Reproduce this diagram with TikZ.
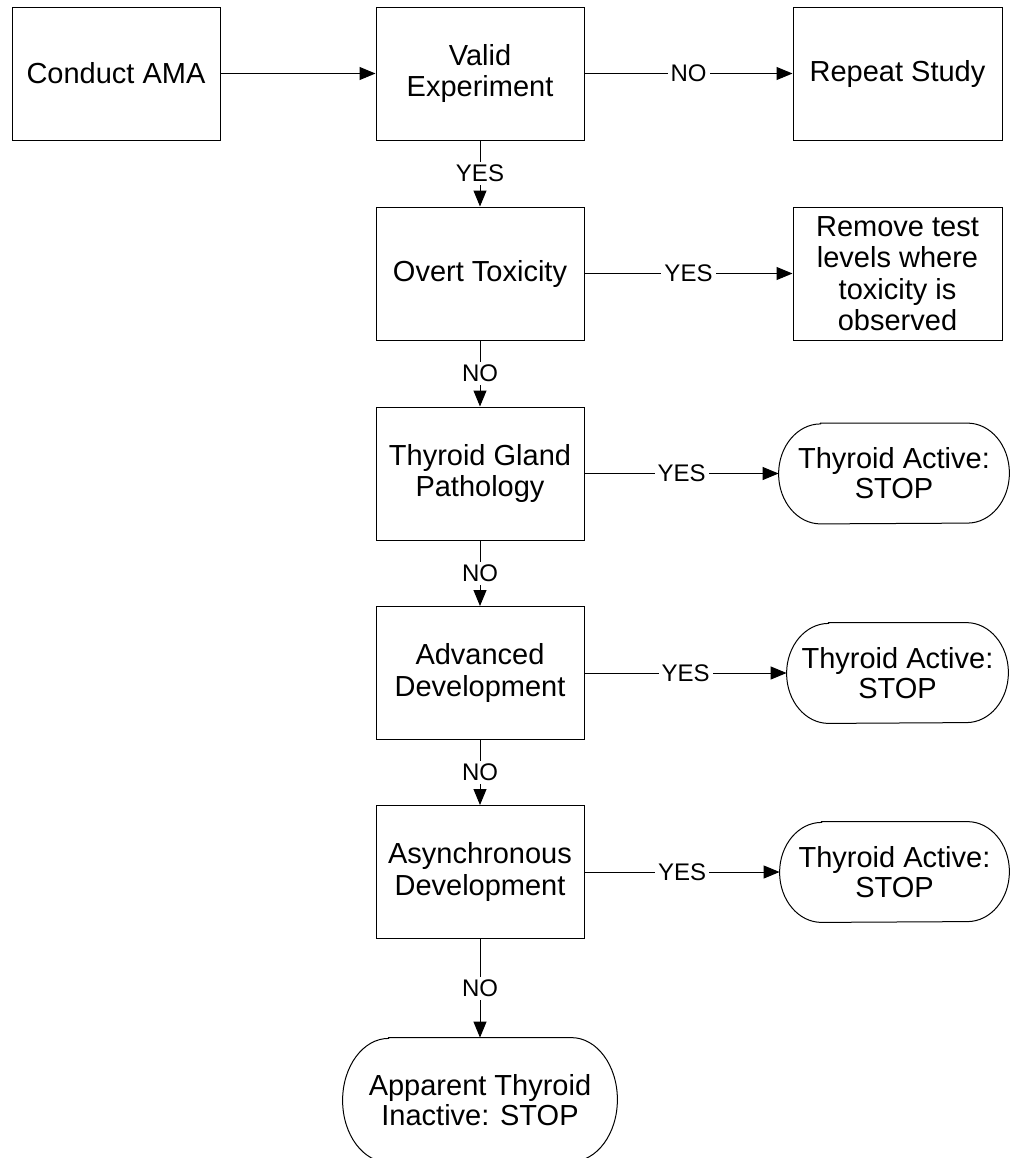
\documentclass[tikz,border=0pt]{standalone}
\usepackage{fontspec}
\setmainfont{Liberation Sans}
\usetikzlibrary{arrows.meta}

% frame of a stop node: flat top and bottom, elliptic ends
\newcommand{\termframe}[3]{%
	\draw[line width=0.5pt] ([xshift=#2]#1.north west) -- ([xshift=-#2]#1.north east)
		arc[start angle=90,end angle=-90,x radius=#2,y radius=#3]
		-- ([xshift=#2]#1.south west)
		arc[start angle=270,end angle=90,x radius=#2,y radius=#3] -- cycle;}

\begin{document}
\begin{tikzpicture}[x=0.5pt,y=-0.5pt,
	box/.style={draw, line width=0.5pt, minimum width=104pt, minimum height=66.5pt, inner sep=0pt, align=center, font=\fontsize{14.5}{15.7}\selectfont},
	termbox/.style={minimum height=50pt, inner sep=0pt, align=center, font=\fontsize{14.5}{15}\selectfont},
	flow/.style={line width=0.5pt, -{Triangle[length=8pt,width=6.5pt]}},
	answer/.style={fill=white, inner sep=1.5pt, font=\fontsize{12}{13}\selectfont}]
						\useasboundingbox (0,0) rectangle (1009,1158);
						
						\node[box] (ama) at (116,73.5) {Conduct AMA};
						\node[box] (valid) at (480,73.5) {Valid\\Experiment};
						\node[box, minimum width=104.5pt] (repeat) at (897.5,73.5) {Repeat Study};
						
						\node[box] (overt) at (480,273.5) {Overt Toxicity};
						\node[box, minimum width=104.5pt] (remove) at (897.5,273.5) {Remove test\\levels where\\toxicity is\\observed};
						
						\node[box] (gland) at (480,473.5) {Thyroid Gland\\Pathology};
						\node[box] (advanced) at (480,673) {Advanced\\Development};
						\node[box] (async) at (480,872) {Asynchronous\\Development};
						
						\node[termbox, minimum width=115pt] (stopa) at (894,473.5) {Thyroid Active:\\STOP};
						\node[termbox, minimum width=110.5pt] (stopb) at (897.5,673) {Thyroid Active:\\STOP};
						\node[termbox, minimum width=114.5pt] (stopc) at (894.5,872) {Thyroid Active:\\STOP};
						\node[termbox, minimum width=137pt, minimum height=62pt] (inactive) at (480,1100) {Apparent Thyroid\\Inactive: STOP};
						
						\termframe{stopa}{21pt}{25pt}
						\termframe{stopb}{21pt}{25pt}
						\termframe{stopc}{21pt}{25pt}
						\termframe{inactive}{23pt}{31pt}
						
						\draw[flow] (ama) -- (valid);
						\draw[flow] (valid) -- node[answer] {NO} (repeat);
						\draw[flow] (valid) -- node[answer] {YES} (overt);
						\draw[flow] (overt) -- node[answer] {YES} (remove);
						\draw[flow] (overt) -- node[answer] {NO} (gland);
						\draw[flow] (gland) -- node[answer] {YES} (stopa);
						\draw[flow] (gland) -- node[answer] {NO} (advanced);
						\draw[flow] (advanced) -- node[answer] {YES} (stopb);
						\draw[flow] (advanced) -- node[answer] {NO} (async);
						\draw[flow] (async) -- node[answer] {YES} (stopc);
						\draw[flow] (async) -- node[answer] {NO} (inactive);
\end{tikzpicture}
\end{document}
